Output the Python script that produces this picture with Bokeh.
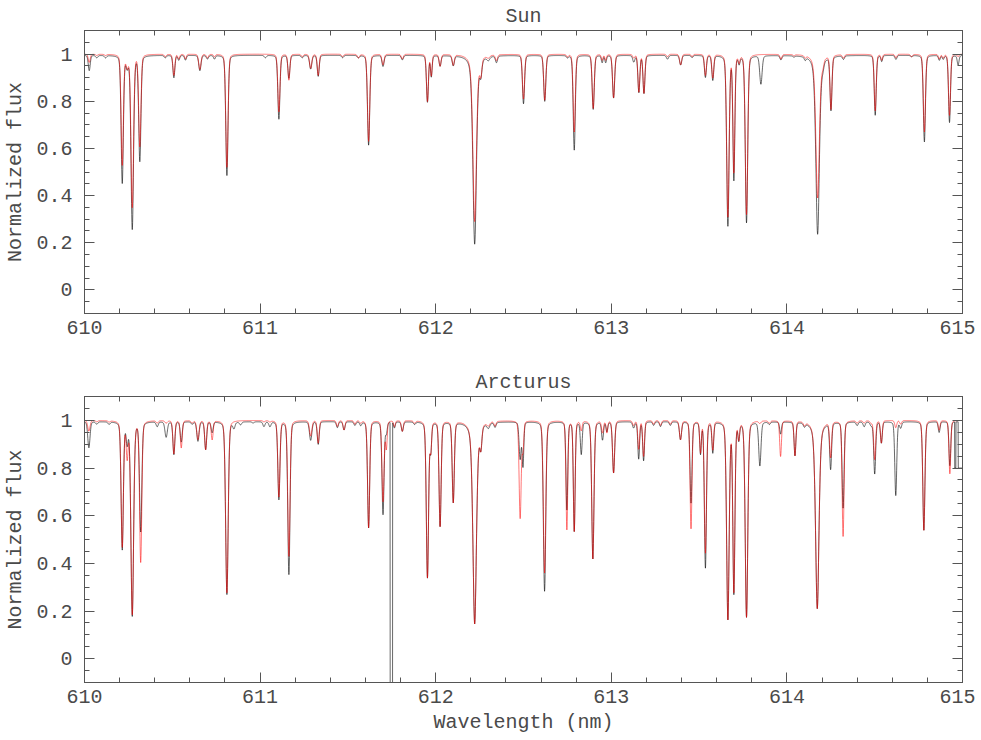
import numpy as np
from bokeh.plotting import figure
from bokeh.layouts import column
from bokeh.models import (FixedTicker, LinearAxis, CustomJSTickFormatter, Range1d)
from bokeh.embed import file_html
from bokeh.resources import INLINE

# ---------------- data ----------------
wl_range = (610.0, 615.0)
flux_range = (-0.1, 1.1)
x_major = [610, 611, 612, 613, 614, 615]
y_major = [0, 0.2, 0.4, 0.6, 0.8, 1.0]
panel_titles = ["Sun", "Arcturus"]
x_label = "Wavelength (nm)"
y_label = "Normalized flux"

# Sun: line centre (nm), observed minimum, model minimum, FWHM (nm)
sun_center = [610.027, 610.07, 610.12, 610.215, 610.243, 610.272, 610.315, 610.46, 610.509,
              610.537, 610.575, 610.657, 610.70, 610.74, 610.811, 611.03, 611.107, 611.164,
              611.24, 611.288, 611.331, 611.47, 611.56, 611.618, 611.70, 611.81, 611.953,
              611.975, 612.025, 612.10, 612.222, 612.257, 612.30, 612.346, 612.50, 612.621,
              612.75, 612.789, 612.897, 612.948, 612.968, 613.013, 613.128, 613.157, 613.186,
              613.32, 613.395, 613.46, 613.536, 613.578, 613.664, 613.698, 613.728, 613.77,
              613.852, 613.966, 614.04, 614.104, 614.175, 614.205, 614.251, 614.322, 614.503,
              614.54, 614.621, 614.71, 614.783, 614.868, 614.89, 614.926, 614.975]
sun_obs_min = [0.93, 0.985, 0.985, 0.453, 0.95, 0.257, 0.547, 0.985, 0.90,
               0.975, 0.975, 0.93, 0.98, 0.98, 0.485, 0.985, 0.724, 0.898,
               0.985, 0.937, 0.906, 0.985, 0.985, 0.614, 0.948, 0.976, 0.797,
               0.906, 0.95, 0.953, 0.194, 0.93, 0.98, 0.967, 0.79, 0.80,
               0.986, 0.593, 0.766, 0.965, 0.965, 0.814, 0.968, 0.838, 0.834,
               0.979, 0.954, 0.986, 0.902, 0.89, 0.271, 0.467, 0.965, 0.285,
               0.874, 0.977, 0.99, 0.982, 0.236, 0.97, 0.766, 0.98, 0.741,
               0.97, 0.978, 0.99, 0.628, 0.975, 0.98, 0.71, 0.955]
sun_mod_min = [0.965, 0.995, 0.995, 0.53, 0.95, 0.35, 0.61, 0.99, 0.91,
               0.98, 0.98, 0.935, 0.985, 0.99, 0.52, 1.0, 0.755, 0.89,
               0.99, 0.94, 0.91, 0.99, 0.985, 0.63, 0.955, 0.98, 0.80,
               0.91, 0.95, 0.955, 0.29, 0.93, 0.99, 0.975, 0.81, 0.805,
               0.99, 0.67, 0.77, 0.975, 0.975, 0.815, 0.985, 0.84, 0.835,
               0.99, 0.955, 0.99, 0.91, 0.90, 0.31, 0.50, 0.97, 0.32,
               1.0, 0.98, 0.995, 0.99, 0.39, 0.975, 0.77, 0.985, 0.76,
               0.975, 0.985, 0.99, 0.67, 0.98, 0.985, 0.74, 0.99]
sun_fwhm = [0.013, 0.014, 0.014, 0.015, 0.015, 0.017, 0.015, 0.014, 0.013,
            0.012, 0.012, 0.015, 0.014, 0.012, 0.015, 0.014, 0.014, 0.013,
            0.014, 0.015, 0.013, 0.014, 0.014, 0.015, 0.014, 0.014, 0.013,
            0.011, 0.013, 0.014, 0.024, 0.014, 0.018, 0.014, 0.014, 0.014,
            0.012, 0.014, 0.014, 0.011, 0.011, 0.014, 0.014, 0.013, 0.013,
            0.014, 0.014, 0.012, 0.013, 0.013, 0.016, 0.013, 0.011, 0.016,
            0.016, 0.013, 0.012, 0.012, 0.024, 0.014, 0.013, 0.014, 0.013,
            0.011, 0.013, 0.014, 0.014, 0.012, 0.012, 0.013, 0.012]

# Arcturus: line centre (nm), observed minimum, model minimum, FWHM (nm)
arc_center = [610.025, 610.07, 610.14, 610.215, 610.243, 610.272, 610.32, 610.414, 610.465,
              610.509, 610.551, 610.613, 610.646, 610.69, 610.727, 610.811, 610.851, 610.889,
              610.96, 611.022, 611.056, 611.107, 611.164, 611.288, 611.331, 611.44, 611.478,
              611.54, 611.573, 611.618, 611.70, 611.719, 611.765, 611.81, 611.88, 611.953,
              611.972, 612.025, 612.10, 612.222, 612.257, 612.30, 612.338, 612.481, 612.497,
              612.62, 612.747, 612.789, 612.829, 612.895, 612.95, 612.975, 613.013, 613.127,
              613.156, 613.184, 613.241, 613.28, 613.336, 613.394, 613.454, 613.508, 613.536,
              613.578, 613.664, 613.698, 613.726, 613.77, 613.846, 613.90, 613.964, 614.046,
              614.10, 614.173, 614.249, 614.32, 614.40, 614.44, 614.48, 614.50, 614.538,
              614.62, 614.648, 614.78, 614.867, 614.928]
arc_obs_min = [0.885, 0.985, 0.985, 0.458, 0.91, 0.178, 0.535, 0.975, 0.93,
               0.857, 0.91, 0.985, 0.913, 0.878, 0.95, 0.269, 0.97, 0.983,
               0.99, 0.975, 0.975, 0.668, 0.353, 0.917, 0.90, 0.97, 0.96,
               0.98, 0.98, 0.549, 0.605, 0.95, 0.97, 0.955, 0.985, 0.339,
               0.878, 0.556, 0.657, 0.146, 0.906, 0.975, 0.975, 0.84, 0.81,
               0.283, 0.626, 0.535, 0.86, 0.419, 0.92, 0.955, 0.78, 0.97,
               0.839, 0.832, 0.98, 0.975, 0.98, 0.92, 0.654, 0.864, 0.381,
               0.867, 0.164, 0.272, 0.927, 0.174, 0.811, 0.985, 0.944, 0.854,
               0.98, 0.21, 0.80, 0.633, 0.98, 0.975, 0.98, 0.776, 0.906,
               0.685, 0.97, 0.539, 0.95, 0.81]
arc_mod_min = [0.955, 0.995, 0.995, 0.47, 0.85, 0.185, 0.406, 0.99, 0.99,
               0.86, 0.885, 0.99, 0.92, 0.878, 0.92, 0.276, 1.0, 1.0,
               1.0, 0.995, 0.995, 0.68, 0.43, 0.935, 0.905, 0.975, 0.96,
               0.985, 0.99, 0.55, 0.66, 0.885, 0.975, 0.955, 0.99, 0.34,
               0.88, 0.556, 0.657, 0.146, 0.906, 0.985, 0.98, 0.59, 0.88,
               0.36, 0.542, 0.535, 0.96, 0.419, 0.95, 0.95, 0.78, 0.98,
               0.88, 0.85, 0.985, 0.98, 0.985, 0.92, 0.546, 0.87, 0.444,
               0.88, 0.164, 0.28, 0.93, 0.174, 0.99, 0.99, 0.85, 0.854,
               0.985, 0.21, 0.85, 0.514, 0.99, 0.99, 0.99, 0.836, 0.906,
               0.97, 0.985, 0.539, 0.96, 0.776]
arc_fwhm = [0.015, 0.014, 0.014, 0.015, 0.013, 0.018, 0.015, 0.014, 0.016,
            0.013, 0.013, 0.014, 0.015, 0.013, 0.013, 0.017, 0.014, 0.014,
            0.014, 0.014, 0.014, 0.014, 0.015, 0.016, 0.013, 0.013, 0.013,
            0.013, 0.013, 0.014, 0.014, 0.011, 0.011, 0.013, 0.014, 0.015,
            0.011, 0.014, 0.014, 0.024, 0.014, 0.018, 0.013, 0.014, 0.011,
            0.016, 0.012, 0.012, 0.012, 0.015, 0.013, 0.011, 0.014, 0.014,
            0.012, 0.012, 0.013, 0.013, 0.013, 0.014, 0.013, 0.011, 0.014,
            0.012, 0.017, 0.014, 0.011, 0.017, 0.015, 0.014, 0.012, 0.012,
            0.014, 0.023, 0.013, 0.013, 0.014, 0.014, 0.014, 0.013, 0.012,
            0.013, 0.013, 0.014, 0.012, 0.012]
# Arcturus observed spectrum: bad/masked pixel stretches (start nm, end nm, flux)
arc_obs_masks = [(611.7405, 611.7545, -0.5), (614.955, 614.962, 0.80), (614.975, 615.0, 0.80)]

obs_continuum = 0.995
mod_continuum = 1.0
sampling_nm = 0.001


def spectrum(wl, centers, minima, fwhms, cont):
    flux = np.full_like(wl, cont)
    for c, m, w in zip(centers, minima, fwhms):
        depth = 1.0 - m / cont
        eta = 0.45 if w >= 0.022 else 0.2
        x = wl - c
        prof = (1 - eta) * np.exp(-4 * np.log(2) * x ** 2 / w ** 2) + eta / (1 + 4 * x ** 2 / w ** 2)
        flux *= 1.0 - depth * prof
    return flux


wl = np.arange(wl_range[0], wl_range[1] + sampling_nm / 2, sampling_nm)
sun_obs = spectrum(wl, sun_center, sun_obs_min, sun_fwhm, obs_continuum)
sun_mod = spectrum(wl, sun_center, sun_mod_min, sun_fwhm, mod_continuum)
arc_obs = spectrum(wl, arc_center, arc_obs_min, arc_fwhm, obs_continuum)
arc_mod = spectrum(wl, arc_center, arc_mod_min, arc_fwhm, mod_continuum)
for a, b, v in arc_obs_masks:
    arc_obs[(wl >= a) & (wl <= b)] = v

# ---------------- styling ----------------
FONT = "Liberation Mono"
TXT = "#4a4a4a"
AX = "#555555"
x_minor = [round(v, 2) for v in np.arange(610.0, 615.001, 0.2)]
y_minor = [round(v, 2) for v in np.arange(-0.1, 1.1001, 0.05)]
yfmt_code = "return tick.toFixed(1).replace(/\\.0$/, '');"


def style_axis(ax, show_labels):
    ax.axis_line_color = AX
    ax.major_tick_line_color = AX
    ax.minor_tick_line_color = AX
    ax.major_tick_out = 0
    ax.minor_tick_out = 0
    ax.major_tick_in = 10
    ax.minor_tick_in = 5
    ax.major_label_text_font = FONT
    ax.major_label_text_font_size = "20px"
    ax.major_label_text_color = TXT
    ax.axis_label_text_font = FONT
    ax.axis_label_text_font_size = "20px"
    ax.axis_label_text_color = TXT
    ax.axis_label_text_font_style = "normal"
    if not show_labels:
        ax.major_label_standoff = 0
        ax.formatter = CustomJSTickFormatter(code="return '';")


def make_panel(title, obs, mod, height, top, bottom, show_xlabel):
    p = figure(width=975, height=height, output_backend="svg", toolbar_location=None,
               x_range=Range1d(*wl_range), y_range=Range1d(*flux_range),
               min_border_left=84, min_border_right=13,
               min_border_top=top, min_border_bottom=bottom)
    p.grid.visible = False
    p.outline_line_color = AX
    p.background_fill_color = "white"
    p.border_fill_color = "white"

    p.title.text = title
    p.title.align = "center"
    p.title.text_font = FONT
    p.title.text_font_size = "20px"
    p.title.text_font_style = "normal"
    p.title.text_color = TXT
    p.title.standoff = 5

    p.xaxis.ticker = FixedTicker(ticks=x_major, minor_ticks=x_minor)
    p.yaxis.ticker = FixedTicker(ticks=y_major, minor_ticks=y_minor)
    p.yaxis.formatter = CustomJSTickFormatter(code=yfmt_code)
    for ax in p.xaxis:
        style_axis(ax, True)
        ax.major_label_standoff = 7
        ax.axis_label_standoff = 5
    for ax in p.yaxis:
        style_axis(ax, True)
        ax.major_label_standoff = 12
        ax.axis_label_standoff = 6
    p.yaxis.axis_label = y_label
    if show_xlabel:
        p.xaxis.axis_label = x_label

    top_ax = LinearAxis(ticker=FixedTicker(ticks=x_major, minor_ticks=x_minor))
    style_axis(top_ax, False)
    p.add_layout(top_ax, "above")
    right_ax = LinearAxis(ticker=FixedTicker(ticks=y_major, minor_ticks=y_minor))
    style_axis(right_ax, False)
    p.add_layout(right_ax, "right")

    p.line(wl, obs, line_color="black", line_width=0.6)
    p.line(wl, mod, line_color="#ff0000", line_width=0.6, line_alpha=0.9)
    return p


p1 = make_panel(panel_titles[0], sun_obs, sun_mod, 355, 27, 42, False)
p2 = make_panel(panel_titles[1], arc_obs, arc_mod, 384, 41, 57, True)
layout = column(p1, p2, spacing=0)

open("out.html", "w").write(file_html(layout, INLINE))
